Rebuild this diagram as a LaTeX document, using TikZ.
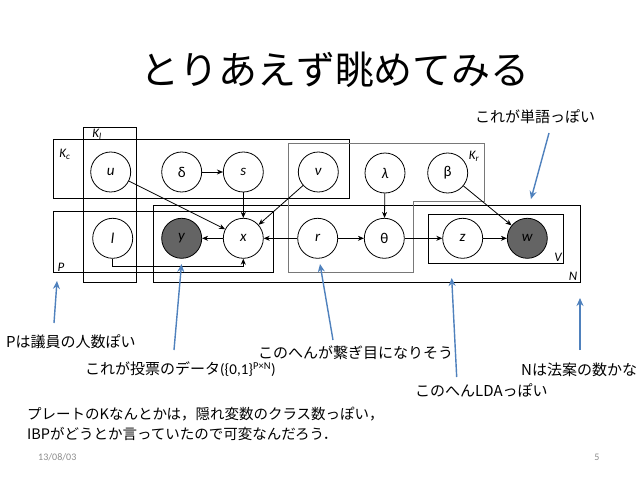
\documentclass[tikz,border=0pt]{standalone}
\usepackage{fontspec}
\setmainfont{Carlito}
\newfontfamily\jp{Noto Sans CJK JP}
\usetikzlibrary{arrows.meta}
\definecolor{bluearrow}{RGB}{79,129,189}
\definecolor{plategray}{RGB}{120,120,120}
\definecolor{obsfill}{RGB}{100,100,100}
\definecolor{footgray}{RGB}{140,140,140}
\begin{document}
\begin{tikzpicture}[x=1pt,y=-1pt,
 var/.style={circle,draw,fill=white,line width=0.8pt,minimum size=40pt,inner sep=0pt,font=\fontsize{15}{18}\selectfont},
 obs/.style={var,fill=obsfill},
 plate/.style={draw,line width=0.8pt},
 edge/.style={-{Stealth[length=6pt,width=5pt]},line width=0.8pt},
 note/.style={-{Stealth[length=8pt,width=7pt]},line width=1.4pt,draw=bluearrow},
 lbl/.style={font=\jp\fontsize{15}{18}\selectfont,inner sep=0pt,anchor=west},
 blbl/.style={lbl,font=\jp\fontsize{14.5}{17}\selectfont},
 platelbl/.style={font=\itshape\fontsize{13}{15}\selectfont,inner sep=0pt}]
\fill[white] (0,0) rectangle (638,479);
\useasboundingbox (0,0) rectangle (638,479);

% title
\node[inner sep=0pt] (title) at (335,70) {\jp\fontsize{39}{41}\selectfont とりあえず眺めてみる};

% plates
\draw[plate] (83,127) rectangle (136,282);
\draw[plate] (53,139) rectangle (349,198);
\draw[plate] (53,211) rectangle (273,272);
\draw[plate] (153,205) rectangle (580,282);
\draw[plate] (428,214) rectangle (563,263);
\draw[plate,draw=plategray] (288,143) -- (484,143) -- (484,201) -- (413,201) -- (413,272) -- (288,272) -- cycle;

\node[platelbl] (Kl) at (97,134) {K\textsubscript{l}};
\node[platelbl] (Kc) at (65,154) {K\textsubscript{c}};
\node[platelbl] (Kr) at (474,156) {K\textsubscript{r}};
\node[platelbl] (Pl) at (61,267) {P};
\node[platelbl] (Vl) at (558,257) {V};
\node[platelbl] (Nl) at (573,276) {N};

% variables
\node[var] (u) at (110.7,172) {\textit{u}};
\node[var] (delta) at (181.7,172) {δ};
\node[var] (s) at (243.3,172) {\textit{s}};
\node[var] (v) at (318.3,172) {\textit{ν}};
\node[var] (lambda) at (385,173) {\textit{λ}};
\node[var] (beta) at (447.7,173) {β};
\node[var] (l) at (112.7,238.3) {\textit{l}};
\node[obs] (y) at (181.7,238.3) {\textit{y}};
\node[var] (x) at (243.3,238.3) {\textit{x}};
\node[var] (r) at (317.7,238.3) {\textit{r}};
\node[var] (theta) at (384.3,238.3) {θ};
\node[var] (z) at (462.7,238.3) {\textit{z}};
\node[obs] (w) at (527.3,238.3) {\textit{w}};

% edges
\draw[edge] (delta) -- (s);
\draw[edge] (s) -- (x);
\draw[edge] (u) -- (x);
\draw[edge] (v) -- (x);
\draw[edge] (x) -- (y);
\draw[edge] (r) -- (x);
\draw[edge] (l.south) -- ++(0,7.5) -| (x.south);
\draw[edge] (r) -- (theta);
\draw[edge] (lambda) -- (theta);
\draw[edge] (theta) -- (z);
\draw[edge] (z) -- (w);
\draw[edge] (beta) -- (w);

% annotations
\node[lbl] (t1) at (475,117) {これが単語っぽい};
\node[lbl] (t2) at (6,342) {Pは議員の人数ぽい};
\node[lbl] (t3) at (85,369) {これが投票のデータ\fontspec{Carlito}(\{0,1\}\textsuperscript{P×N})};
\node[lbl] (t4) at (258,353) {このへんが繋ぎ目になりそう};
\node[lbl] (t5) at (415,390) {このへんLDAっぽい};
\node[lbl] (t6) at (521,370) {Nは法案の数かな};
\node[blbl] (b1) at (27,414) {プレートのKなんとかは，隠れ変数のクラス数っぽい，};
\node[blbl] (b2) at (27,434) {IBPがどうとか言っていたので可変なんだろう．};
\node[inner sep=0pt,anchor=west,text=footgray,font=\fontsize{10}{12}\selectfont] (date) at (38,457) {13/08/03};
\node[inner sep=0pt,text=footgray,font=\fontsize{10}{12}\selectfont] (page) at (597,457) {5};

% blue arrows
\coordinate (a1s) at (549,133); \coordinate (a1e) at (531,199);
\coordinate (a2s) at (54,323); \coordinate (a2e) at (57,281);
\coordinate (a3s) at (174,350); \coordinate (a3e) at (181.5,264);
\coordinate (a4s) at (333,340); \coordinate (a4e) at (320,264);
\coordinate (a5s) at (456.7,377); \coordinate (a5e) at (451.7,278);
\coordinate (a6s) at (580,350); \coordinate (a6e) at (580,298);
\draw[note] (a1s) -- (a1e);
\draw[note] (a2s) -- (a2e);
\draw[note] (a3s) -- (a3e);
\draw[note] (a4s) -- (a4e);
\draw[note] (a5s) -- (a5e);
\draw[note] (a6s) -- (a6e);
\end{tikzpicture}
\end{document}
